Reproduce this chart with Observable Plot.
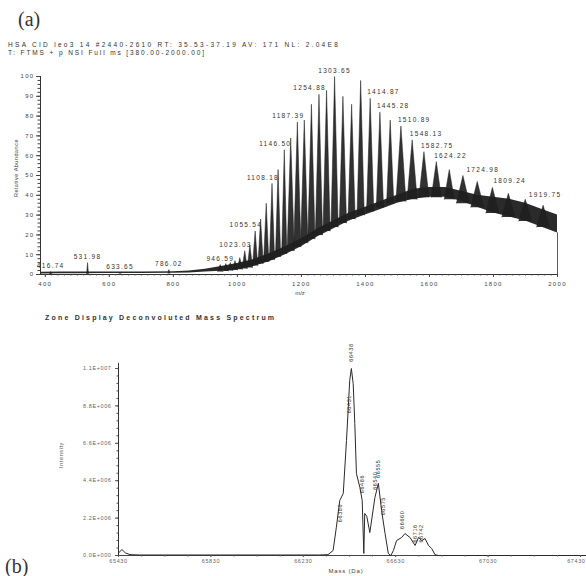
<!DOCTYPE html>
<html><head><meta charset="utf-8">
<script src="https://cdn.jsdelivr.net/npm/d3@7"></script>
<script src="https://cdn.jsdelivr.net/npm/@observablehq/plot@0.6"></script>
<style>
body{margin:0;background:#fff;}
#page{position:relative;width:586px;height:576px;overflow:hidden;font-family:"Liberation Sans",Arial,sans-serif;color:#333;background:#fff;}
.t{position:absolute;white-space:nowrap;line-height:1;}
.panel{font-family:"Liberation Serif",serif;font-size:20px;color:#333;}
.small{font-size:6.5px;color:#333;}
.box{position:absolute;left:0;}
#pa svg text{letter-spacing:1.3px;}
#pb svg text{letter-spacing:0.6px;}
</style></head><body><div id="page"></div>
<script>
// ---------- Panel (a): ESI spectrum ----------
const headerLines = [
  "HSA CID leo3 14 #2440-2610 RT: 35.53-37.19 AV: 171 NL: 2.04E8",
  "T: FTMS + p NSI Full ms [380.00-2000.00]"
];
const aXTicks = [400, 600, 800, 1000, 1200, 1400, 1600, 1800, 2000];
const aYTicks = [0, 10, 20, 30, 40, 50, 60, 70, 80, 90, 100];

// charge-state peaks: m/z, apex abundance, valley (base) abundance
const peakMz = [416.74, 531.98, 633.65, 786.02,
  946.59, 963.9, 978.0, 992.6, 1007.6, 1023.03, 1039.1, 1055.54, 1072.6, 1090.1, 1108.18,
  1127.1, 1146.50, 1166.6, 1187.39, 1209.0, 1231.3, 1254.88, 1278.6, 1303.65, 1329.7,
  1356.9, 1385.1, 1414.87, 1445.28, 1477.4, 1510.89, 1546.0, 1582.75, 1621.4, 1661.9,
  1704.5, 1749.3, 1796.6, 1846.5, 1899.2, 1955.0];
const peakAbund = [1.5, 6, 1, 2.5,
  5, 5.5, 6, 7, 8.5, 12, 15, 22, 28, 36, 46,
  53, 63, 69, 77, 78, 86, 91, 93, 100, 90,
  86, 98, 89, 82, 78, 75, 68, 62, 57, 53,
  50, 47, 44, 41, 38, 35];
const peakBase = [0.3, 0.4, 0.5, 0.6,
  1.5, 1.8, 2, 2.3, 2.6, 3, 3.5, 4.5, 5.5, 6.5, 7.5,
  9, 10.5, 12, 14, 16, 18, 20, 22, 24, 26,
  28, 30, 32, 34, 36, 37, 38, 39, 39, 38,
  36, 34, 31, 29, 27, 24];

const labelMz = [416.74, 531.98, 633.65, 786.02, 946.59, 1023.03, 1055.54, 1108.18, 1146.50,
  1187.39, 1254.88, 1303.65, 1414.87, 1445.28, 1510.89, 1548.13, 1582.75, 1624.22, 1724.98,
  1809.24, 1919.75];
const labelAbund = [1.5, 6, 1, 2.5, 5, 12, 22, 46, 63, 77, 91, 100, 89, 82, 75, 68, 62, 57, 50, 44, 37];
const labelText = ["416.74", "531.98", "633.65", "786.02", "946.59", "1023.03", "1055.54",
  "1108.18", "1146.50", "1187.39", "1254.88", "1303.65", "1414.87", "1445.28", "1510.89",
  "1548.13", "1582.75", "1624.22", "1724.98", "1809.24", "1919.75"];

const bandMz = [385, 450, 500, 600, 700, 800, 850, 900, 950, 1000, 1050, 1100, 1150, 1200,
  1250, 1300, 1350, 1400, 1450, 1500, 1550, 1600, 1650, 1700, 1750, 1800, 1850, 1900, 1950, 2000];
const bandLo = [0.3, 0.4, 0.4, 0.5, 0.5, 0.6, 0.8, 1.2, 1.6, 2.5, 4, 6.5, 10, 14,
  19, 23, 27, 30, 33, 36, 38, 39, 39, 37, 34, 31, 29, 27, 24, 21];
const bandHi = [1.1, 1.2, 1.2, 1.3, 1.3, 1.4, 1.8, 2.7, 4.1, 5.5, 7.5, 10.5, 14, 18,
  23, 27, 31, 34, 37, 40, 43, 44, 44, 42, 40, 39, 38, 36, 33, 30];

// ---------- Panel (b): deconvoluted spectrum ----------
const bMass = [65430, 65445, 65460, 65480, 65520, 66300, 66337, 66359, 66373, 66388, 66403,
  66417, 66431, 66438, 66446, 66453, 66460, 66475, 66485, 66492, 66496, 66505, 66518,
  66540, 66555, 66569, 66584, 66598, 66609, 66620, 66634, 66656, 66670, 66692, 66714,
  66729, 66743, 66757, 66772, 66786, 66800, 66815, 67456];
const bIntensity = [0.15e6, 0.35e6, 0.15e6, 0.05e6, 0.03e6, 0.03e6, 0.05e6, 0.29e6, 1.65e6,
  3.24e6, 3.65e6, 6.76e6, 10.3e6, 11.0e6, 10.1e6, 7.76e6, 4.82e6, 4.0e6, 3.24e6, 0.12e6,
  2.47e6, 2.3e6, 1.35e6, 3.41e6, 4.24e6, 2.65e6, 1.29e6, 0.12e6, 0.0, 0.29e6, 0.88e6,
  1.06e6, 1.29e6, 1.06e6, 0.59e6, 1.06e6, 0.88e6, 1.0e6, 0.59e6, 0.41e6, 0.05e6, 0, 0];
const bXTicks = [65430, 65830, 66230, 66630, 67030, 67430];
const bYTicks = [0, 2.2e6, 4.4e6, 6.6e6, 8.8e6, 1.1e7];
const bYTickLabels = ["0.0E+000", "2.2E+006", "4.4E+006", "6.6E+006", "8.8E+006", "1.1E+007"];
const bPeakMass = [66438, 66431, 66388, 66486, 66540, 66555, 66575, 66660, 66716, 66742];
const bPeakInt = [11.4e6, 8.9e6, 2.5e6, 4.2e6, 4.4e6, 5.1e6, 2.9e6, 2.1e6, 1.3e6, 1.3e6];
const bPeakText = ["66438", "66431", "66388", "66486", "66540", "66555", "66575", "66660", "66716", "66742"];

// ---------- build ----------
const page = document.getElementById("page");
function addText(txt, cls, left, top, extra) {
  const d = document.createElement("div");
  d.className = "t " + cls;
  d.textContent = txt;
  d.style.left = left + "px"; d.style.top = top + "px";
  if (extra) Object.assign(d.style, extra);
  page.appendChild(d);
  return d;
}

const peaks = peakMz.map((mz, i) => ({mz, h: peakAbund[i], base: peakBase[i], len: peakAbund[i] - peakBase[i]}));
const labels = labelMz.map((mz, i) => ({mz, h: labelAbund[i], text: labelText[i]}));
const band = bandMz.map((mz, i) => ({mz, lo: bandLo[i], hi: bandHi[i]}));

const aH = 240, aTop = 16, aBottom = 26;
const spike = (data, r) => Plot.vector(data, {x: "mz", y: "base", length: "len", rotate: 0, anchor: "start", shape: "spike", r, fill: "#1f1f1f", fillOpacity: 0.92, stroke: "#1f1f1f", strokeWidth: 0.5});
const plotA = Plot.plot({
  width: 586, height: aH,
  marginLeft: 40, marginRight: 29, marginTop: aTop, marginBottom: aBottom,
  x: {domain: [385, 2000]},
  y: {domain: [0, 100]},
  length: {type: "linear", domain: [0, 100], range: [0, aH - aTop - aBottom]},
  style: {fontFamily: "Liberation Sans, Arial, sans-serif", fontSize: "6px", color: "#333", background: "transparent", overflow: "visible"},
  marks: [
    Plot.areaY(band, {x: "mz", y1: "lo", y2: "hi", fill: "#2a2a2a"}),
    spike(peaks.filter(d => d.mz < 900), 0.9),
    spike(peaks.filter(d => d.mz >= 900 && d.mz < 1150), 2.6),
    spike(peaks.filter(d => d.mz >= 1150 && d.mz < 1500), 3.6),
    spike(peaks.filter(d => d.mz >= 1500 && d.mz < 1700), 5),
    spike(peaks.filter(d => d.mz >= 1700), 6.5),
    Plot.ruleX([2000], {y1: 0, y2: bandLo[bandLo.length - 1], stroke: "#333", strokeWidth: 0.8}),
    Plot.ruleX([385], {stroke: "#333", strokeWidth: 1}),
    Plot.ruleY([0], {stroke: "#333", strokeWidth: 1}),
    Plot.axisY({ticks: aYTicks, tickSize: 4, tickPadding: 2, stroke: "#444", fill: "#444", label: null}),
    Plot.axisY({ticks: d3.range(0, 101, 2), tickSize: 2.5, text: null, stroke: "#444", label: null}),
    Plot.axisX({ticks: aXTicks, tickSize: 3, tickPadding: 4, stroke: "#444", fill: "#444", tickFormat: d => String(d), label: null}),
    Plot.axisX({ticks: d3.range(400, 2001, 20), tickSize: 1.5, text: null, stroke: "#444", label: null}),
    Plot.text(labels.filter(d => d.mz < 1000), {x: "mz", y: "h", text: "text", dy: -6, textAnchor: "middle", fontSize: 6.5, fill: "#333"}),
    Plot.text(labels.filter(d => d.mz >= 1000 && d.mz < 1300), {x: "mz", y: "h", text: "text", dy: -6, dx: 7, textAnchor: "end", fontSize: 6.5, fill: "#333"}),
    Plot.text(labels.filter(d => d.mz >= 1300 && d.mz < 1400), {x: "mz", y: "h", text: "text", dy: -6, textAnchor: "middle", fontSize: 6.5, fill: "#333"}),
    Plot.text(labels.filter(d => d.mz >= 1400), {x: "mz", y: "h", text: "text", dy: -6, dx: -3, textAnchor: "start", fontSize: 6.5, fill: "#333"})
  ]
});
const boxA = document.createElement("div");
boxA.className = "box"; boxA.id = "pa"; boxA.style.top = "60px";
boxA.appendChild(plotA);
page.appendChild(boxA);

const bData = bMass.map((m, i) => ({m, v: bIntensity[i]}));
const bLabelMap = new Map(bYTicks.map((t, i) => [t, bYTickLabels[i]]));
const bPeaks = bPeakMass.map((m, i) => ({m, v: bPeakInt[i], text: bPeakText[i]}));
const plotB = Plot.plot({
  width: 586, height: 241,
  marginLeft: 118, marginRight: 0, marginTop: 33, marginBottom: 21,
  x: {domain: [65430, 67456]},
  y: {domain: [0, 1.1e7]},
  style: {fontFamily: "Liberation Sans, Arial, sans-serif", fontSize: "5.5px", color: "#444", background: "transparent", overflow: "visible"},
  marks: [
    Plot.ruleX([65430], {y1: 0, y2: 1.13e7, stroke: "#333", strokeWidth: 1}),
    Plot.ruleY([0], {stroke: "#444", strokeWidth: 1}),
    Plot.line(bData, {x: "m", y: "v", stroke: "#2a2a2a", strokeWidth: 1}),
    Plot.axisY({ticks: bYTicks, tickSize: 3, tickPadding: 4, tickFormat: d => bLabelMap.get(d), stroke: "#555", fill: "#666", label: null}),
    Plot.axisY({ticks: d3.range(0, 1.1e7 + 1, 1.1e7 / 25), tickSize: 1.5, text: null, stroke: "#555", label: null}),
    Plot.axisX({ticks: bXTicks.slice(0, -1), tickSize: 2, tickPadding: 2, tickFormat: d => String(d), stroke: "#555", fill: "#666", label: null}),
    Plot.axisX({ticks: bXTicks.slice(-1), tickSize: 2, text: null, stroke: "#555", label: null}),
    Plot.text(bXTicks.slice(-1), {x: d => d, frameAnchor: "bottom", text: d => String(d), textAnchor: "end", dx: 5, dy: 7, fontSize: 5.5, fill: "#666"}),
    Plot.axisX({ticks: d3.range(65430, 67456, 100), tickSize: 1.5, text: null, stroke: "#555", label: null}),
    Plot.text(bPeaks.slice(0, 1), {x: "m", y: "v", text: "text", rotate: -90, textAnchor: "start", fontSize: 5.5, fill: "#333"}),
    Plot.text(bPeaks.slice(1), {x: "m", y: "v", text: "text", rotate: -90, textAnchor: "middle", fontSize: 5.5, fill: "#333"})
  ]
});
const boxB = document.createElement("div");
boxB.className = "box"; boxB.id = "pb"; boxB.style.top = "335px";
boxB.appendChild(plotB);
page.appendChild(boxB);

// ---------- texts ----------
addText("(a)", "panel", 18, 9);
addText(headerLines[0], "small", 8, 42, {letterSpacing: "2.3px"});
addText(headerLines[1], "small", 8, 50, {letterSpacing: "1.9px"});
addText("Relative Abundance", "t", 17, 168, {fontSize: "5.5px", letterSpacing: "0.5px", color: "#444", transform: "translate(-50%,-50%) rotate(-90deg)"});
addText("m/z", "t", 300, 290, {fontSize: "6px", color: "#444", transform: "translateX(-50%)"});
addText("Zone Display Deconvoluted Mass Spectrum", "t", 45, 314, {fontSize: "7px", letterSpacing: "2.2px", color: "#333", fontWeight: "bold"});
addText("Intensity", "t", 62, 455, {fontSize: "5.5px", letterSpacing: "0.6px", color: "#555", transform: "translate(-50%,-50%) rotate(-90deg)"});
addText("Mass (Da)", "t", 346, 568, {fontSize: "6px", letterSpacing: "0.8px", color: "#444", transform: "translateX(-50%)"});
addText("(b)", "panel", 5, 556);
</script>
</body></html>
